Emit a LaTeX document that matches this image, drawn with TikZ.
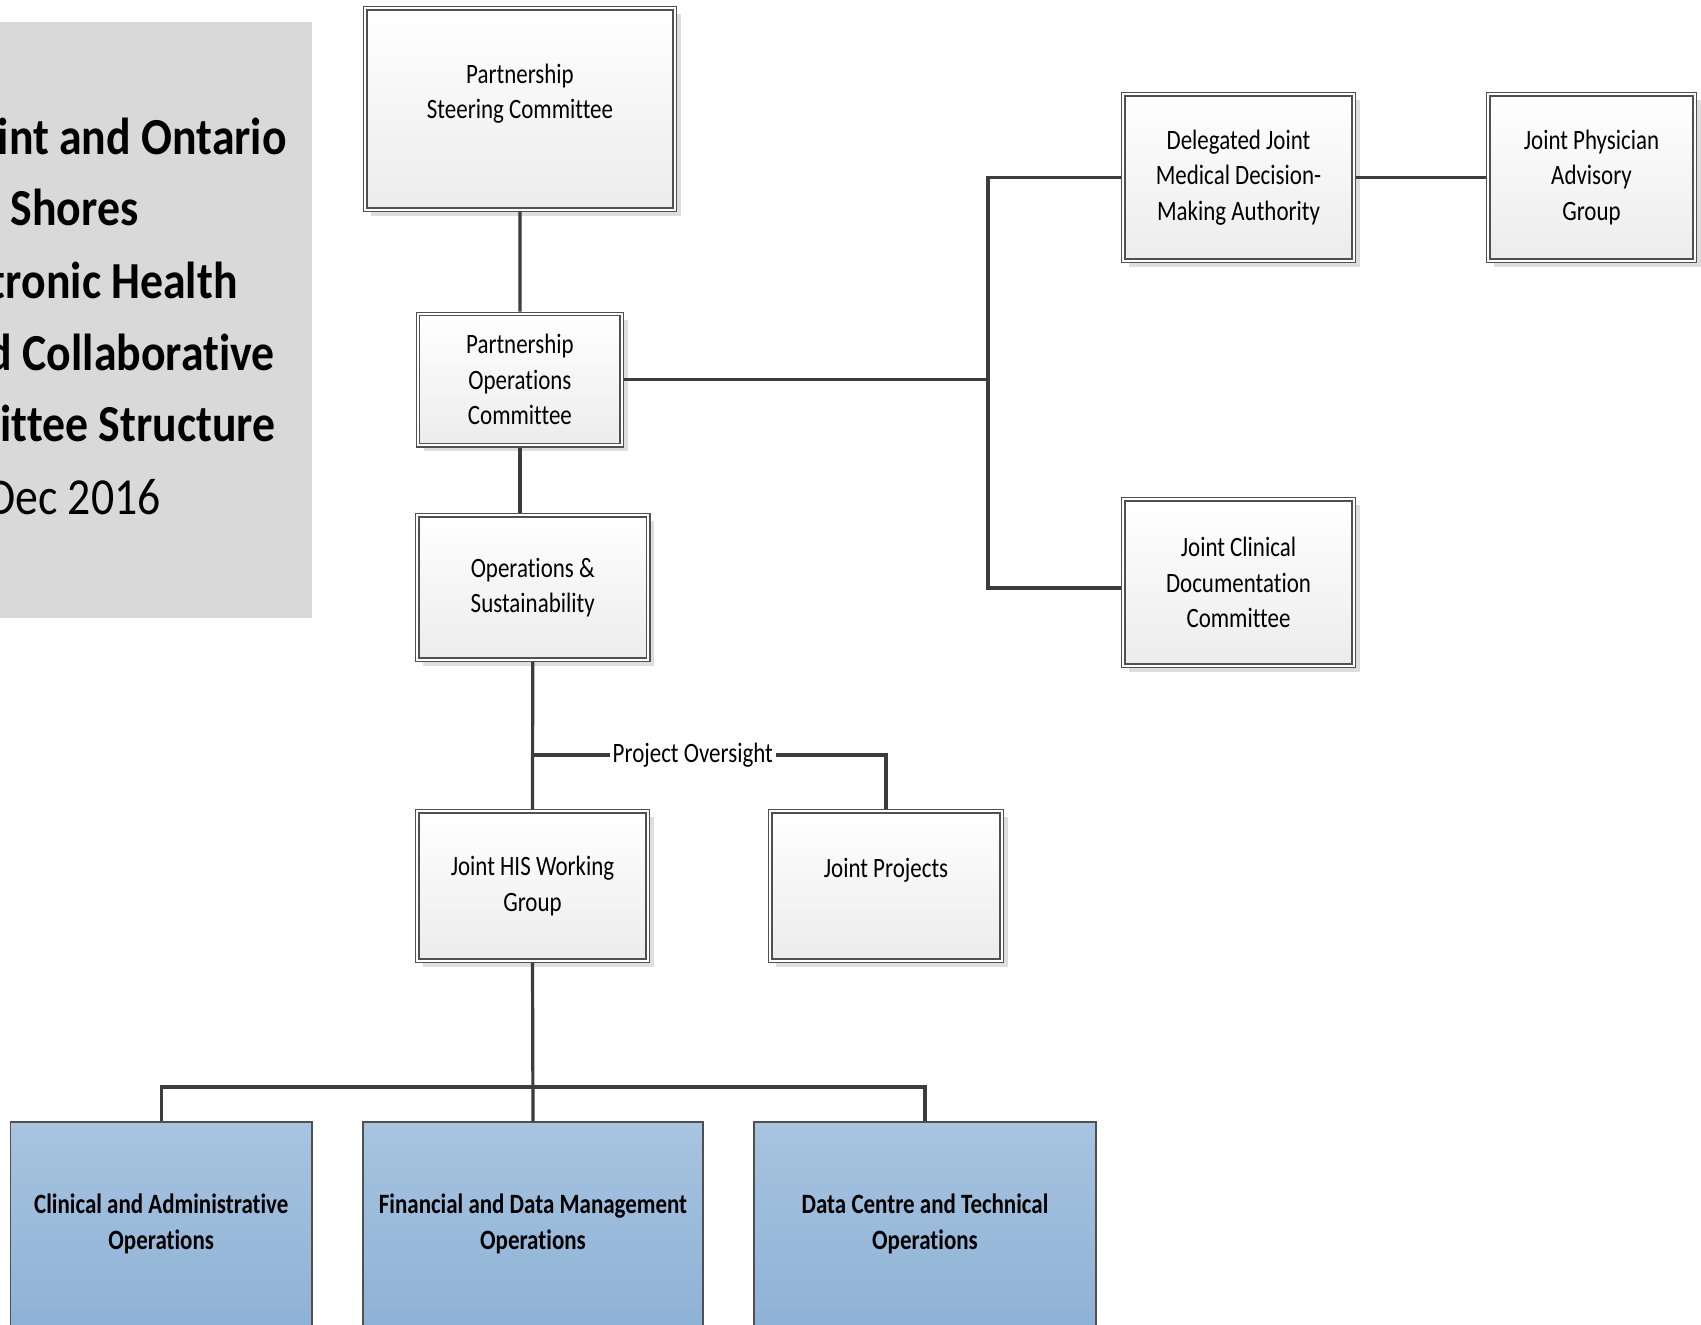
\documentclass[tikz,border=0pt]{standalone}
\usepackage{fontspec}
\usetikzlibrary{shadows,calc}
\newfontfamily\chartfont[FakeStretch=0.82,Ligatures=NoCommon]{Carlito}
\newfontfamily\titlefont[FakeStretch=0.88,Ligatures=NoCommon]{Carlito}
\definecolor{linec}{RGB}{60,60,60}
\definecolor{boxline}{RGB}{80,80,80}
\definecolor{bluetop}{RGB}{167,196,224}
\definecolor{bluebot}{RGB}{142,178,214}
\definecolor{titlebg}{RGB}{217,217,217}
\definecolor{boxbot}{RGB}{236,236,236}
\begin{document}
\begin{tikzpicture}[x=0.5pt,y=-0.5pt,
 chart/.style={font=\chartfont\fontsize{14}{17.75}\selectfont, align=center},
 wbox/.style={chart, rectangle, draw=boxline, line width=0.65pt, double=white, double distance=1pt,
   top color=white, bottom color=boxbot, inner sep=0pt, outer sep=1.15pt,
   drop shadow={shadow xshift=3pt, shadow yshift=-3pt, fill=black!13, opacity=1}},
 bbox/.style={chart, font=\chartfont\bfseries\fontsize{14}{17.75}\selectfont, rectangle, draw=boxline,
   line width=0.75pt, top color=bluetop, bottom color=bluebot, inner sep=0pt},
 conn/.style={draw=linec, line width=1.6pt},
 ttl/.style={font=\titlefont\bfseries\fontsize{26}{36}\selectfont, anchor=base east, inner sep=0pt},
]
\useasboundingbox (0,0) rectangle (1701,1325);
\clip (0,0) rectangle (1701,1325);

% title panel
\fill[titlebg] (0,22) rectangle (311.5,618);
\node[ttl] (t1) at (287,154.5) {int and Ontario};
\node[ttl] (t2) at (139,226) {Shores};
\node[ttl] (t3) at (238,298.5) {tronic Health};
\node[ttl] (t4) at (275,371) {d Collaborative};
\node[ttl] (t5) at (276,442) {ittee Structure};
\node[ttl, font=\titlefont\mdseries\fontsize{26}{36}\selectfont] (t6) at (161,514.5) {Dec 2016};

% white boxes
\node[wbox, minimum width=154.7pt, minimum height=100.7pt] (steer) at (520,109) {Partnership\\Steering Committee\\\mbox{}};
\node[wbox, minimum width=101.85pt, minimum height=65.7pt] (poc) at (519.9,379.7) {Partnership\\Operations\\Committee};
\node[wbox, minimum width=115.45pt, minimum height=72.2pt] (ops) at (532.75,587.5) {Operations \&\\Sustainability};
\node[wbox, minimum width=115.2pt, minimum height=74.7pt] (his) at (532.5,886) {Joint HIS Working\\Group};
\node[wbox, minimum width=115.7pt, minimum height=74.7pt] (jproj) at (886,886) {Joint Projects\\\mbox{}};
\node[wbox, minimum width=115.2pt, minimum height=83.2pt] (dele) at (1238.5,177.5) {Delegated Joint\\Medical Decision-\\Making Authority};
\node[wbox, minimum width=103.2pt, minimum height=83.2pt] (jpag) at (1591.5,177.5) {Joint Physician\\Advisory\\Group};
\node[wbox, minimum width=115.2pt, minimum height=83.2pt] (jcdc) at (1238.5,582.5) {Joint Clinical\\Documentation\\Committee};

% blue boxes
\node[bbox, minimum width=150.75pt, minimum height=102pt] (cao) at (161.25,1224) {Clinical and Administrative\\Operations};
\node[bbox, minimum width=170pt, minimum height=102pt] (fdm) at (533,1224) {Financial and Data Management\\Operations};
\node[bbox, minimum width=171pt, minimum height=102pt] (dcto) at (925,1224) {Data Centre and Technical\\Operations};

% connectors
\draw[conn] (steer.south) -- (poc.north);
\draw[conn] (poc.south) -- (poc.south |- ops.north);
\draw[conn] (ops.south) -- (his.north);
\coordinate (pob) at (532.75,755);
\draw[conn] (pob) -- node[pos=0.453, fill=white, inner sep=1.5pt, chart, text=black] (polbl) {Project Oversight} (pob -| jproj.north) -- (jproj.north);
\coordinate (bus) at (532.75,1087);
\draw[conn] (his.south) -- (fdm.north);
\draw[conn] (cao.north) |- (bus) -| (dcto.north);
\coordinate (vx) at (988,378);
\coordinate (jcin) at ($(jcdc.west)+(0,5.5)$);
\draw[conn] (poc.east) -- (poc.east -| vx);
\draw[conn] (dele.west) -| (vx) -- (vx |- jcin) -- (jcin);
\draw[conn] (dele.east) -- (jpag.west);
\end{tikzpicture}
\end{document}
